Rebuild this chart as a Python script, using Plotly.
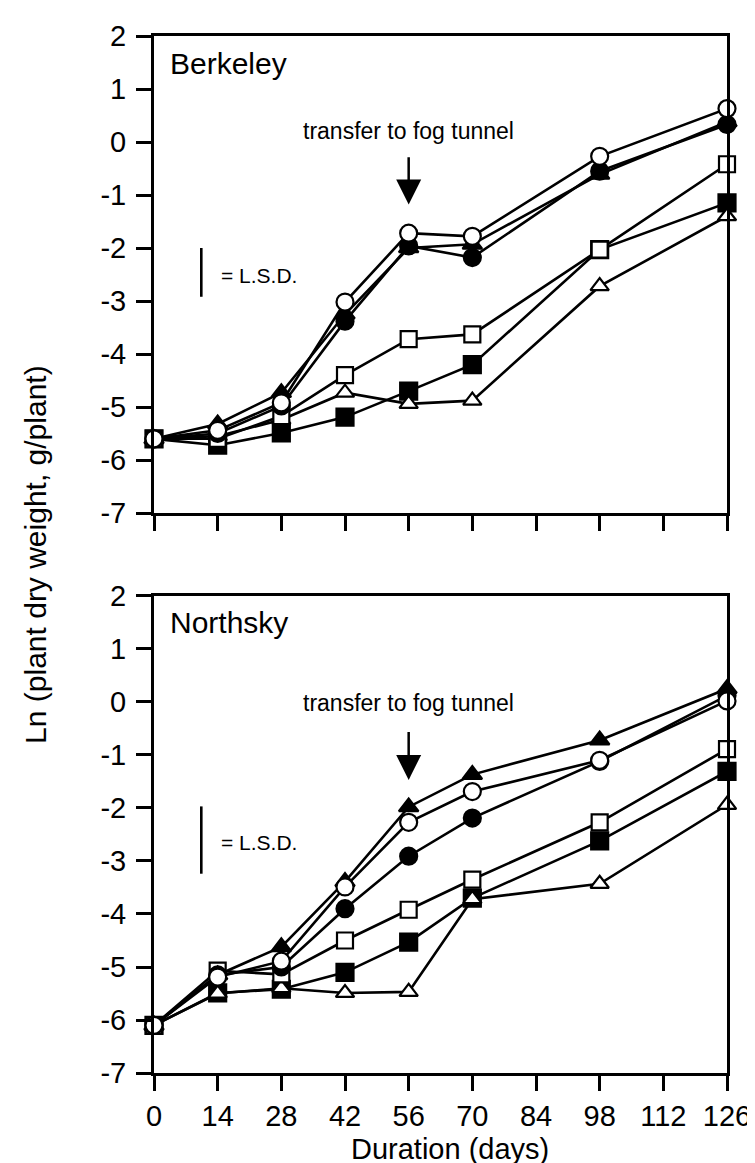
import plotly.graph_objects as go

days = [0, 14, 28, 42, 56, 70, 98, 126]

# Berkeley
berk_open_circle = [-5.6, -5.44, -4.92, -3.02, -1.72, -1.78, -0.27, 0.63]
berk_filled_circle = [-5.6, -5.50, -4.98, -3.38, -1.96, -2.18, -0.55, 0.33]
berk_filled_triangle = [-5.6, -5.32, -4.73, -3.25, -2.00, -1.93, -0.61, 0.38]
berk_open_square = [-5.6, -5.60, -5.17, -4.40, -3.72, -3.63, -2.03, -0.42]
berk_filled_square = [-5.6, -5.72, -5.49, -5.19, -4.70, -4.20, -2.03, -1.15]
berk_open_triangle = [-5.6, -5.55, -5.24, -4.73, -4.94, -4.88, -2.72, -1.40]

# Northsky
north_open_circle = [-6.1, -5.19, -4.89, -3.49, -2.27, -1.69, -1.10, 0.02]
north_filled_circle = [-6.1, -5.15, -5.00, -3.90, -2.91, -2.19, -1.12, 0.12]
north_filled_triangle = [-6.1, -5.15, -4.62, -3.39, -1.98, -1.37, -0.72, 0.25]
north_open_square = [-6.1, -5.07, -5.14, -4.50, -3.92, -3.35, -2.27, -0.89]
north_filled_square = [-6.1, -5.49, -5.42, -5.10, -4.53, -3.70, -2.62, -1.31]
north_open_triangle = [-6.1, -5.50, -5.40, -5.49, -5.47, -3.72, -3.43, -1.94]

# L.S.D. bars (x position in days, y extent)
lsd_x = [10.4, 10.4]
lsd_berk = [-2.0, -2.92]
lsd_north = [-1.97, -3.24]

x_ticks = [0, 14, 28, 42, 56, 70, 84, 98, 112, 126]
x_tick_labels = ["0", "14", "28", "42", "56", "70", "84", "98", "112", "126"]
y_ticks = [2, 1, 0, -1, -2, -3, -4, -5, -6, -7]
y_tick_labels = ["2", "1", "0", "-1", "-2", "-3", "-4", "-5", "-6", "-7"]

FONT = "Liberation Sans, Arial, Helvetica, sans-serif"

fig = go.Figure()

styles = [
    # (key, symbol, fill, size)
    ("filled_square", "square", "black", 17),
    ("open_triangle", "triangle-up", "white", 16),
    ("open_square", "square", "white", 16),
    ("filled_circle", "circle", "black", 17),
    ("filled_triangle", "triangle-up", "black", 17),
    ("open_circle", "circle", "white", 17),
]

berk = {
    "open_circle": berk_open_circle, "filled_circle": berk_filled_circle,
    "filled_triangle": berk_filled_triangle, "open_square": berk_open_square,
    "filled_square": berk_filled_square, "open_triangle": berk_open_triangle,
}
north = {
    "open_circle": north_open_circle, "filled_circle": north_filled_circle,
    "filled_triangle": north_filled_triangle, "open_square": north_open_square,
    "filled_square": north_filled_square, "open_triangle": north_open_triangle,
}

for data, xa, ya in [(berk, "x", "y"), (north, "x2", "y2")]:
    for key, sym, fill, size in styles:
        fig.add_trace(go.Scatter(
            x=days, y=data[key], xaxis=xa, yaxis=ya, mode="lines+markers",
            line=dict(color="black", width=2.6),
            marker=dict(symbol=sym, size=size, color=fill,
                        line=dict(color="black", width=2.2)),
            cliponaxis=False, showlegend=False, hoverinfo="skip",
        ))

# LSD bars
fig.add_trace(go.Scatter(x=lsd_x, y=lsd_berk, xaxis="x", yaxis="y", mode="lines",
                         line=dict(color="black", width=2.6), showlegend=False))
fig.add_trace(go.Scatter(x=lsd_x, y=lsd_north, xaxis="x2", yaxis="y2", mode="lines",
                         line=dict(color="black", width=2.6), showlegend=False))

axis_common = dict(
    range=[0, 126], tickvals=x_ticks, ticktext=x_tick_labels,
    showline=True, linecolor="black", linewidth=3, mirror=True,
    ticks="outside", ticklen=15, tickwidth=2.5, tickcolor="black",
    showgrid=False, zeroline=False,
    tickfont=dict(family=FONT, size=29, color="black"),
)
yaxis_common = dict(
    range=[-7, 2], tickvals=y_ticks, ticktext=y_tick_labels,
    showline=True, linecolor="black", linewidth=3, mirror=True,
    ticks="outside", ticklen=15, tickwidth=2.5, tickcolor="black",
    showgrid=False, zeroline=False, ticklabelstandoff=4,
    tickfont=dict(family=FONT, size=29, color="black"),
)

fig.update_layout(
    width=755, height=1163,
    margin=dict(l=146, r=29, t=26, b=98),
    paper_bgcolor="white", plot_bgcolor="white",
    xaxis=dict(axis_common, domain=[0, 1], anchor="y", showticklabels=False),
    yaxis=dict(yaxis_common, domain=[0.54, 1.0], anchor="x"),
    xaxis2=dict(axis_common, domain=[0, 1], anchor="y2"),
    yaxis2=dict(yaxis_common, domain=[0.0, 0.46], anchor="x2"),
    font=dict(family=FONT, color="black"),
)

ann = []
# panel labels
ann.append(dict(x=3, y=1.48, xref="x", yref="y", text="Berkeley", showarrow=False,
                xanchor="left", yanchor="middle", font=dict(size=30)))
ann.append(dict(x=3, y=1.50, xref="x2", yref="y2", text="Northsky", showarrow=False,
                xanchor="left", yanchor="middle", font=dict(size=30)))
# transfer text
ann.append(dict(x=56, y=0.2, xref="x", yref="y", text="transfer to fog tunnel",
                showarrow=False, xanchor="center", yanchor="middle", font=dict(size=23)))
ann.append(dict(x=56, y=-0.02, xref="x2", yref="y2", text="transfer to fog tunnel",
                showarrow=False, xanchor="center", yanchor="middle", font=dict(size=23)))
# arrows
ann.append(dict(x=56, y=-1.18, xref="x", yref="y", ax=56, ay=-0.26, axref="x", ayref="y",
                text="", showarrow=True, arrowhead=2, arrowsize=2, arrowwidth=2.5,
                arrowcolor="black"))
ann.append(dict(x=56, y=-1.47, xref="x2", yref="y2", ax=56, ay=-0.54, axref="x2", ayref="y2",
                text="", showarrow=True, arrowhead=2, arrowsize=2, arrowwidth=2.5,
                arrowcolor="black"))
# LSD labels
ann.append(dict(x=14.3, y=-2.52, xref="x", yref="y", text="= L.S.D.", showarrow=False,
                xanchor="left", yanchor="middle", font=dict(size=21)))
ann.append(dict(x=14.3, y=-2.66, xref="x2", yref="y2", text="= L.S.D.", showarrow=False,
                xanchor="left", yanchor="middle", font=dict(size=21)))
# axis titles
ann.append(dict(x=-0.207, y=0.5, xref="paper", yref="paper",
                text="Ln (plant dry weight, g/plant)", textangle=-90, showarrow=False,
                xanchor="center", yanchor="middle", font=dict(size=30)))
ann.append(dict(x=0.517, y=-0.073, xref="paper", yref="paper",
                text="Duration (days)", showarrow=False,
                xanchor="center", yanchor="middle", font=dict(size=29)))

fig.update_layout(annotations=ann)

fig.write_html("out.html")
